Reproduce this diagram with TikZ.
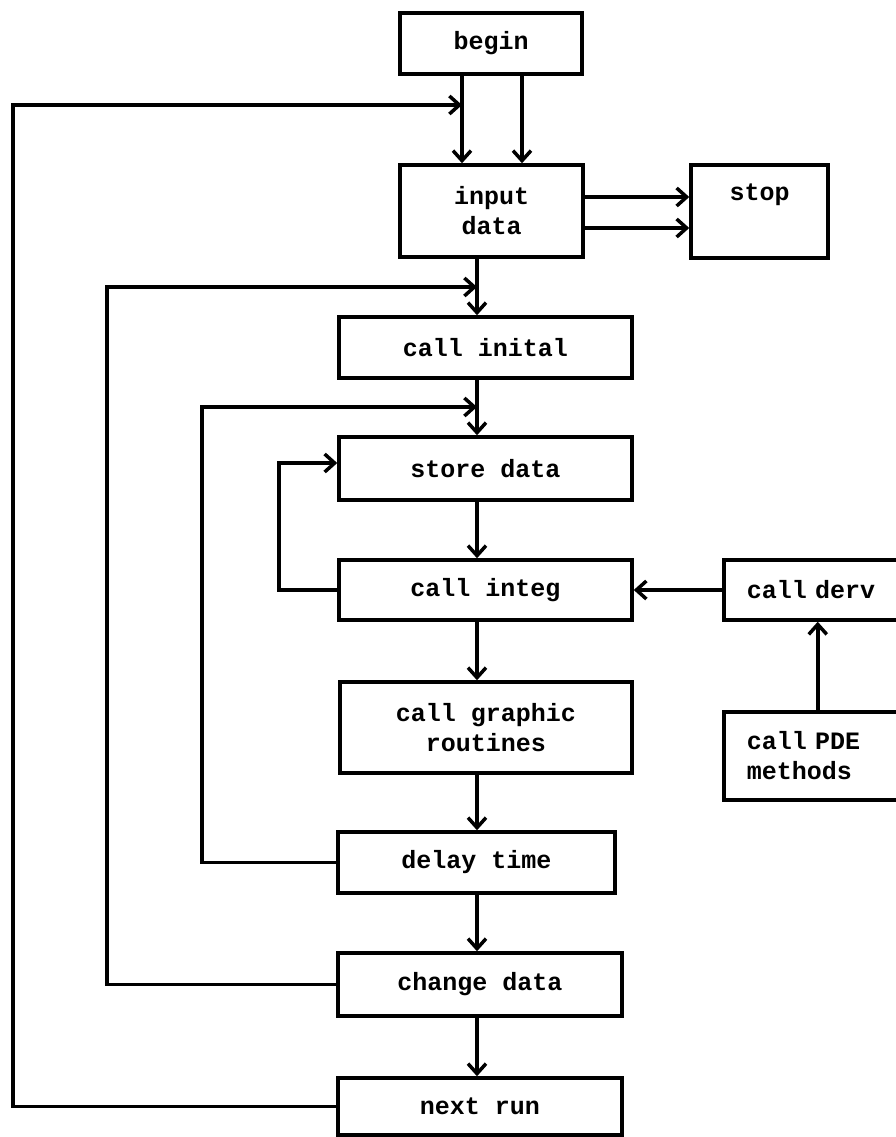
\documentclass[tikz,border=0pt]{standalone}
\usepackage{fontspec}
\setmonofont{Liberation Mono}
\usetikzlibrary{arrows.meta}
\begin{document}
\begin{tikzpicture}[x=1pt,y=-1pt,
  box/.style={draw,line width=3.5pt,rectangle,inner sep=0pt,align=center,
    font=\ttfamily\bfseries\fontsize{25}{30}\selectfont},
  leftbox/.style={box,align=left,inner xsep=23pt,text width=142pt,anchor=west},
  conn/.style={line width=3.5pt},
  arr/.style={conn,-{Straight Barb[length=10pt,width=18pt]}}]
\useasboundingbox (0,0) rectangle (896,1137);

% main column
\node[box,minimum width=182pt,minimum height=61pt] (begin) at (491,43.5) {begin};
\node[box,minimum width=183pt,minimum height=92pt] (input) at (491.5,211) {input\\data};
\node[box,minimum width=137pt,minimum height=93pt] (stop) at (759.5,211.5) {stop\\\strut};
\node[box,minimum width=293pt,minimum height=61pt] (inital) at (485.5,347.5) {call inital};
\node[box,minimum width=293pt,minimum height=63pt] (store) at (485.5,468.5) {store data};
\node[box,minimum width=293pt,minimum height=60pt] (integ) at (485.5,590) {call integ};
\node[box,minimum width=292pt,minimum height=91pt] (graphic) at (486,727.5) {call graphic\\routines};
\node[box,minimum width=277pt,minimum height=61pt] (delay) at (476.5,862.5) {delay time};
\node[box,minimum width=284pt,minimum height=63pt] (change) at (480,984.5) {change data};
\node[box,minimum width=284pt,minimum height=57pt] (next) at (480,1106.5) {next run};

% side column
\node[leftbox,minimum height=60pt] (derv) at (722,590) {call derv};
\node[leftbox,minimum height=88pt] (pde) at (722,756) {call PDE\\methods};

% reference coordinates for connector lanes
\coordinate (vx) at (477,0);
\coordinate (ja) at (462,0);
\coordinate (jb) at (522,0);
\coordinate (h1) at (0,197);
\coordinate (h2) at (0,228);
\coordinate (o1) at (13,105);
\coordinate (o2) at (107,287);
\coordinate (o3) at (202,407);
\coordinate (o4) at (279,463);

% begin -> input data (two lines)
\draw[arr] (begin.south -| ja) -- (input.north -| ja);
\draw[arr] (begin.south -| jb) -- (input.north -| jb);
% input data -> stop (two lines)
\draw[arr] (input.east |- h1) -- (stop.west |- h1);
\draw[arr] (input.east |- h2) -- (stop.west |- h2);

% main flow
\draw[arr] (input.south -| vx) -- (inital.north -| vx);
\draw[arr] (inital.south -| vx) -- (store.north -| vx);
\draw[arr] (store.south -| vx) -- (integ.north -| vx);
\draw[arr] (integ.south -| vx) -- (graphic.north -| vx);
\draw[arr] (graphic.south -| vx) -- (delay.north -| vx);
\draw[arr] (delay.south -| vx) -- (change.north -| vx);
\draw[arr] (change.south -| vx) -- (next.north -| vx);

% side calls
\draw[arr] (derv.west) -- (integ.east);
\draw[arr] (pde.north) -- (derv.south);

% feedback loops
\draw[arr] (next.west) -| (o1) -- (o1 -| ja);
\draw[arr] (change.west) -| (o2) -- (o2 -| vx);
\draw[arr] (delay.west) -| (o3) -- (o3 -| vx);
\draw[arr] (integ.west) -| (o4) -- (o4 -| store.west);
\end{tikzpicture}
\end{document}
